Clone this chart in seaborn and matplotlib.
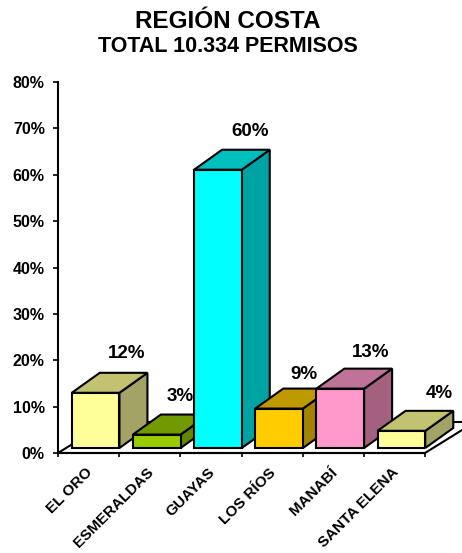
import numpy as np
import pandas as pd
import matplotlib
matplotlib.use("Agg")
import matplotlib.pyplot as plt
from matplotlib.patches import Polygon
from matplotlib.transforms import ScaledTranslation
import seaborn as sns

categories = ["EL ORO", "ESMERALDAS", "GUAYAS", "LOS RÍOS", "MANABÍ", "SANTA ELENA"]
values = [11.9, 2.9, 60.0, 8.5, 12.8, 3.7]
labels = ["12%", "3%", "60%", "9%", "13%", "4%"]
front_colors = ["#FFFF99", "#99CC00", "#00FFFF", "#FFCC00", "#FF99CC", "#FFFF99"]
top_colors = ["#C2C270", "#739900", "#00BFBF", "#BF9900", "#BF7399", "#C2C270"]
side_colors = ["#A3A366", "#648500", "#00A3A3", "#A38300", "#A3617F", "#A3A366"]
y_ticks = [0, 10, 20, 30, 40, 50, 60, 70, 80]
label_offsets = [(31, 39), (23, 38), (32, 38), (25, 34), (30, 36), (38, 37)]

sns.set_style("white")
plt.rcParams["font.family"] = ["Liberation Sans", "DejaVu Sans"]

W, H = 462, 553
fig = plt.figure(figsize=(W / 100, H / 100), dpi=100, facecolor="white")
L, R, T, B = 58, 425, 82, 453
ax = fig.add_axes([L / W, (H - B) / H, (R - L) / W, (B - T) / H])
ax.patch.set_alpha(0)

df = pd.DataFrame({"prov": categories, "val": values})
sns.barplot(data=df, x="prov", y="val", hue="prov", order=categories, hue_order=categories,
            palette=front_colors, saturation=1, width=0.78, legend=False, ax=ax,
            edgecolor="black", linewidth=1.5)
ax.set_xlim(-0.5, 5.5)
ax.set_ylim(0, 80)
ax.set_xlabel("")
ax.set_ylabel("")

px_x = (R - L) / 6
px_y = (B - T) / 80
base = 5 / px_y
shift = 7 / px_x
dx, dy = 28 / px_x, 20 / px_y

bars = list(ax.patches)

# floor
fdx, fdy = 50 / px_x, 31 / px_y
ax.add_patch(Polygon([(-0.5, 0), (5.5, 0), (5.5 + fdx, fdy), (-0.5 + fdx, fdy)], closed=True,
                     facecolor="white", edgecolor="black", linewidth=1.5, zorder=1, clip_on=False))

for i, p in enumerate(bars):
    p.set_y(base)
    p.set_x(p.get_x() + shift)
    p.set_zorder(11 + 2 * i)
    x0, w, h = p.get_x(), p.get_width(), p.get_height()
    x1, y0, y1 = x0 + w, base, base + h
    ax.add_patch(Polygon([(x1, y0), (x1 + dx, y0 + dy), (x1 + dx, y1 + dy), (x1, y1)], closed=True,
                         facecolor=side_colors[i], edgecolor="black", linewidth=1.5,
                         zorder=10 + 2 * i, clip_on=False))
    ax.add_patch(Polygon([(x0, y1), (x1, y1), (x1 + dx, y1 + dy), (x0 + dx, y1 + dy)], closed=True,
                         facecolor=top_colors[i], edgecolor="black", linewidth=1.5,
                         zorder=10 + 2 * i, clip_on=False))
    ax.annotate(labels[i], (x0 + w / 2, y1), xytext=label_offsets[i], textcoords="offset pixels",
                ha="center", va="center", fontsize=13.5, fontweight="bold", color="black",
                zorder=60, annotation_clip=False)

for s in ["top", "right"]:
    ax.spines[s].set_visible(False)
for s in ["left", "bottom"]:
    ax.spines[s].set_linewidth(1.5)
    ax.spines[s].set_color("black")

ax.set_yticks(y_ticks)
ax.set_yticklabels([f"{v}%" for v in y_ticks], fontsize=11.5, fontweight="bold", color="black")
ax.tick_params(axis="y", which="major", left=True, length=3.5, width=1.2, pad=6, color="black")
ax.set_xticks(range(6))
ax.set_xticklabels(categories, rotation=45, ha="right", rotation_mode="anchor",
                   fontsize=11, fontweight="bold", color="black")
ax.tick_params(axis="x", which="major", bottom=False, length=0, pad=9)
ax.set_xticks(np.arange(-0.5, 6), minor=True)
ax.tick_params(axis="x", which="minor", bottom=True, length=3, width=1.2, color="black")
off = ScaledTranslation(-3 / 100, 0, fig.dpi_scale_trans)
for t in ax.get_xticklabels():
    t.set_transform(t.get_transform() + off)

fig.text(228 / W, 1 - 21 / H, "REGIÓN COSTA", ha="center", va="center",
         fontsize=17.5, fontweight="bold", color="black")
fig.text(228 / W, 1 - 46 / H, "TOTAL 10.334 PERMISOS", ha="center", va="center",
         fontsize=15.5, fontweight="bold", color="black")

fig.savefig("out.png", dpi=100, facecolor="white")
